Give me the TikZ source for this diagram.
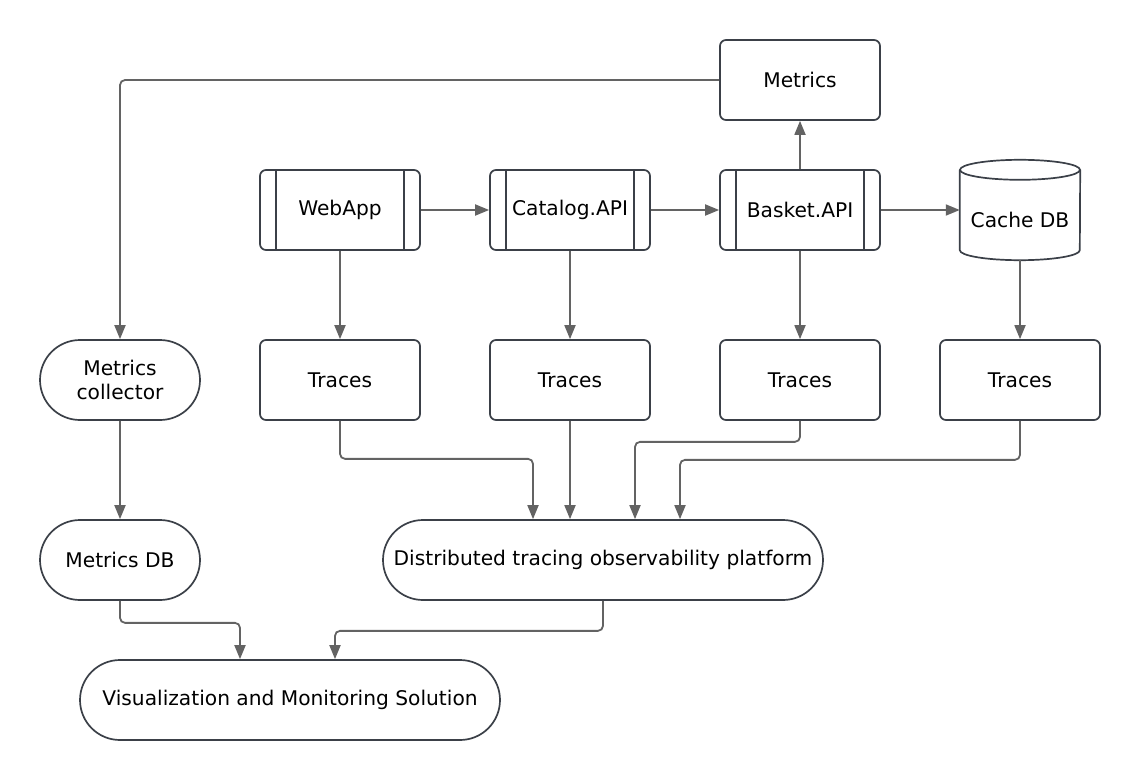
\documentclass[tikz,border=0pt]{standalone}
\usepackage{fontspec}
\setmainfont{DejaVu Sans}
\usetikzlibrary{arrows.meta, shapes.misc, calc}

\definecolor{boxgray}{HTML}{3B4048}
\definecolor{linegray}{HTML}{636363}

\tikzset{
    box/.style={draw=boxgray, line width=1.7pt, rounded corners=6pt, fill=white,
        minimum width=160pt, minimum height=80pt, inner sep=0pt},
    procbox/.style={box, path picture={
        \draw[boxgray, line width=1.7pt]
            ([xshift=16pt]path picture bounding box.north west) -- ([xshift=16pt]path picture bounding box.south west)
            ([xshift=-16pt]path picture bounding box.north east) -- ([xshift=-16pt]path picture bounding box.south east);}},
    pill/.style={draw=boxgray, line width=1.7pt, rounded rectangle, fill=white,
        minimum height=80pt, inner sep=0pt, align=center},
    flow/.style={draw=linegray, line width=1.8pt, rounded corners=5pt,
        -{Triangle[length=14pt, width=11pt]}},
}

\begin{document}
\begin{tikzpicture}[x=1pt, y=-1pt, font=\fontsize{20.2}{25}\selectfont]

    \useasboundingbox (0,0) rectangle (1140,781);

    % --- Services ---
    \node[box] (metrics) at (800,80) {Metrics};
    \node[procbox] (webapp) at (340,210) {WebApp};
    \node[procbox] (catalog) at (570,210) {Catalog.API};
    \node[procbox] (basket) at (800,210) {Basket.API};

    % --- Cache DB (cylinder) ---
    \node[minimum width=120pt, minimum height=100pt, inner sep=0pt] (cache) at (1020,210) {};
    \draw[boxgray, line width=1.7pt, fill=white]
        ($(cache.north west)+(0,10)$) -- ($(cache.south west)+(0,-10)$)
        arc[start angle=180, end angle=360, x radius=60pt, y radius=10pt]
        -- ($(cache.north east)+(0,10)$);
    \draw[boxgray, line width=1.7pt] ($(cache.north)+(0,10)$) ellipse[x radius=60pt, y radius=10pt];
    \node (cachelabel) at ($(cache.center)+(0,10)$) {Cache DB};

    % --- Traces ---
    \node[box] (tr1) at (340,380) {Traces};
    \node[box] (tr2) at (570,380) {Traces};
    \node[box] (tr3) at (800,380) {Traces};
    \node[box] (tr4) at (1020,380) {Traces};

    % --- Collectors and platforms ---
    \node[pill, minimum width=160pt] (collector) at (120,380) {Metrics\\[-1pt]collector};
    \node[pill, minimum width=160pt] (metricsdb) at (120,560) {Metrics DB};
    \node[pill, minimum width=440pt] (dist) at (603,560) {Distributed tracing observability platform};
    \node[pill, minimum width=420pt] (vis) at (290,700) {Visualization and Monitoring Solution};

    % --- Request flow ---
    \draw[flow] (webapp) -- (catalog);
    \draw[flow] (catalog) -- (basket);
    \draw[flow] (basket) -- (cache);
    \draw[flow] (basket) -- (metrics);
    \draw[flow] (metrics.west) -| (collector.north);

    % --- Traces emitted ---
    \draw[flow] (webapp) -- (tr1);
    \draw[flow] (catalog) -- (tr2);
    \draw[flow] (basket) -- (tr3);
    \draw[flow] (cache.south) -- (tr4);

    % --- Into the tracing platform ---
    \draw[flow] (tr1.south) -- ++(0,38) -| ([xshift=-70pt]dist.north);
    \draw[flow] (tr2.south) -- (tr2.south |- dist.north);
    \draw[flow] (tr3.south) -- ++(0,21) -| ([xshift=32pt]dist.north);
    \draw[flow] (tr4.south) -- ++(0,39) -| ([xshift=77pt]dist.north);

    % --- Metrics path ---
    \draw[flow] (collector) -- (metricsdb);
    \draw[flow] (metricsdb.south) -- ++(0,22) -| ([xshift=-50pt]vis.north);
    \draw[flow] (dist.south) -- ++(0,30) -| ([xshift=45pt]vis.north);

\end{tikzpicture}
\end{document}
